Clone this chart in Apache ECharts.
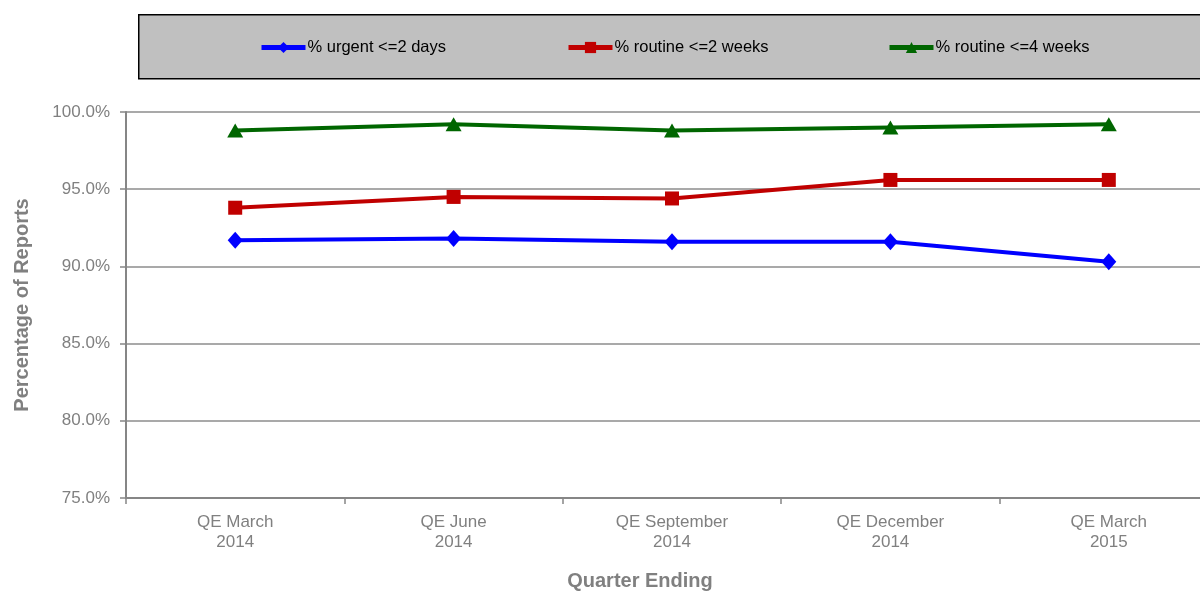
<!DOCTYPE html>
<html>
<head>
<meta charset="utf-8">
<script src="https://cdn.jsdelivr.net/npm/echarts@6/dist/echarts.min.js"></script>
<style>
html,body{margin:0;padding:0;background:#fff;overflow:hidden;width:1200px;height:594px;}
#c{width:1218px;height:594px;}
</style>
</head>
<body>
<div id="c"></div>
<script>
var categories = ['QE March\n2014', 'QE June\n2014', 'QE September\n2014', 'QE December\n2014', 'QE March\n2015'];
var urgent2Days = [91.7, 91.8, 91.6, 91.6, 90.3];
var routine2Weeks = [93.8, 94.5, 94.4, 95.6, 95.6];
var routine4Weeks = [98.8, 99.2, 98.8, 99.0, 99.2];
var seriesNames = ['% urgent <=2 days', '% routine <=2 weeks', '% routine <=4 weeks'];
var yTicks = [75, 80, 85, 90, 95, 100];
var xAxisTitle = 'Quarter Ending';
var yAxisTitle = 'Percentage of Reports';

var FONT = 'Liberation Sans, Arial, sans-serif';
var GREY = '#808080';
var chart = echarts.init(document.getElementById('c'));

function legendAt(name, left) {
  return {
    data: [name], left: left, top: 39, itemWidth: 44, itemHeight: 14, padding: 0,
    lineStyle: { width: 5 },
    textStyle: { fontFamily: FONT, fontSize: 16.5, color: '#000', padding: [0,0,0,-3] }
  };
}

chart.setOption({
  animation: false,
  graphic: [{
    type: 'rect', left: 138, top: 14, z: -1,
    shape: { width: 1100, height: 64 },
    style: { fill: '#c0c0c0', stroke: '#000', lineWidth: 1.5 }
  }, {
    type: 'text', x: 640, y: 581,
    style: { text: xAxisTitle, fill: GREY, font: 'bold 20px ' + FONT, textAlign: 'center', textVerticalAlign: 'middle' }
  }],
  legend: [
    legendAt(seriesNames[0], 259),
    legendAt(seriesNames[1], 566),
    legendAt(seriesNames[2], 887)
  ],
  grid: { left: 126, top: 112, right: 0, height: 386, containLabel: false },
  xAxis: {
    type: 'category', data: categories, boundaryGap: true,
    axisLine: { lineStyle: { color: '#868686', width: 2 } },
    axisTick: { show: true, length: 6, lineStyle: { color: '#868686', width: 1.5 } },
    axisLabel: { fontFamily: FONT, fontSize: 17, color: GREY, margin: 14, lineHeight: 20 }
  },
  yAxis: {
    type: 'value', min: yTicks[0], max: yTicks[yTicks.length - 1], interval: 5,
    name: yAxisTitle, nameLocation: 'middle', nameGap: 94,
    nameTextStyle: { fontFamily: FONT, fontSize: 20, fontWeight: 'bold', color: GREY },
    axisLine: { show: true, lineStyle: { color: '#868686', width: 2 } },
    axisTick: { show: true, length: 6, lineStyle: { color: '#868686', width: 1.5 } },
    axisLabel: { fontFamily: FONT, fontSize: 17, color: GREY, margin: 16,
      formatter: function (v) { return v.toFixed(1) + '%'; } },
    splitLine: { lineStyle: { color: '#8c8c8c', width: 1.5 } }
  },
  series: [
    { name: seriesNames[0], type: 'line', data: urgent2Days, symbol: 'diamond', symbolSize: [15, 17],
      itemStyle: { color: '#0000ff' }, lineStyle: { color: '#0000ff', width: 4 } },
    { name: seriesNames[1], type: 'line', data: routine2Weeks, symbol: 'rect', symbolSize: 14,
      itemStyle: { color: '#c00000' }, lineStyle: { color: '#c00000', width: 4 } },
    { name: seriesNames[2], type: 'line', data: routine4Weeks, symbol: 'triangle', symbolSize: [16, 14],
      itemStyle: { color: '#006600' }, lineStyle: { color: '#006600', width: 4 } }
  ]
});
</script>
</body>
</html>
